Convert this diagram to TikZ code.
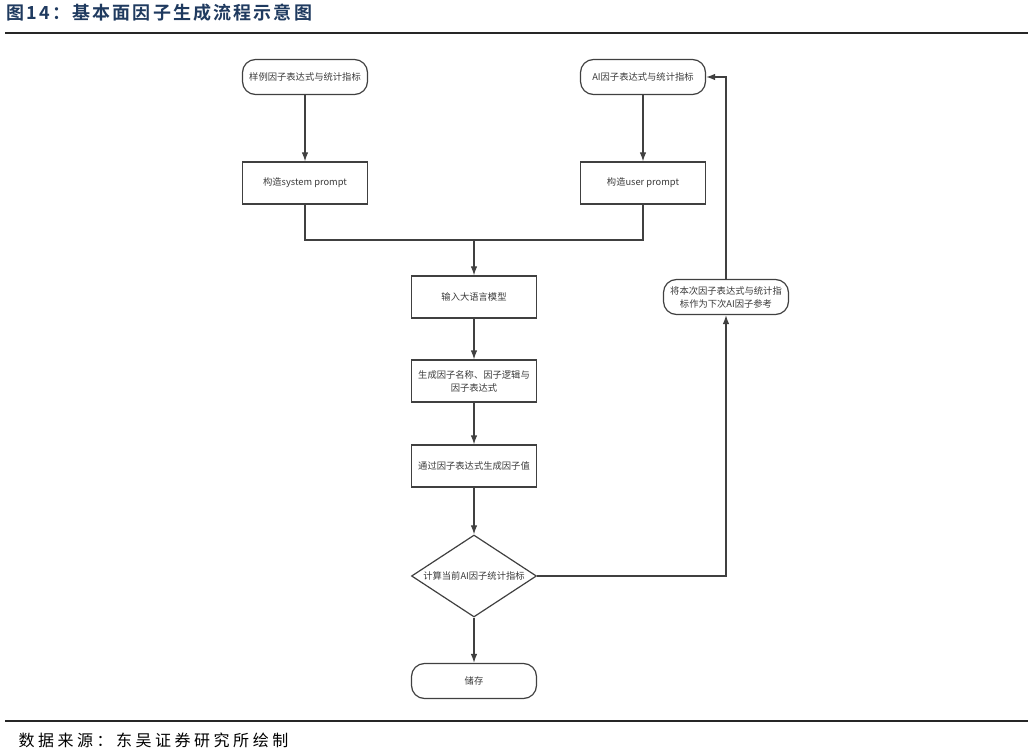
\documentclass[tikz,border=0pt]{standalone}
\usepackage{fontspec}
\usepackage{xcolor}
\usepackage{tikz}
\usetikzlibrary{calc, shapes.geometric, arrows.meta, positioning}
\newfontfamily\cjk{Noto Sans CJK SC}
\newfontfamily\cjktitle[LetterSpace=12]{Noto Sans CJK SC Bold}
\newfontfamily\cjksource[LetterSpace=22]{Noto Sans CJK SC}
\definecolor{flowline}{HTML}{404040}
\definecolor{flowtext}{HTML}{3A3A3A}
\definecolor{titleblue}{HTML}{1F3A5F}

\begin{document}
\begin{tikzpicture}[x=1pt, y=-1pt,
			terminal/.style={draw=flowline, line width=1.2pt, rectangle, rounded corners=13pt, minimum width=125pt, minimum height=35pt, text=flowtext, font=\cjk\fontsize{9.3}{13}\selectfont, align=center},
			process/.style={draw=flowline, line width=1.2pt, rectangle, minimum width=125pt, minimum height=42pt, text=flowtext, font=\cjk\fontsize{9.3}{13}\selectfont, align=center},
			decision/.style={draw=flowline, line width=1.2pt, diamond, aspect=1.52, minimum width=125pt, minimum height=82pt, inner sep=0pt, text=flowtext, font=\cjk\fontsize{9.3}{13}\selectfont},
			link/.style={draw=flowline, line width=1.2pt},
			arrow/.style={link, -{Latex[length=9pt, width=6.5pt]}}
			]
			\useasboundingbox (0,0) rectangle (1031,754);
			% title and rules
			\node [anchor=west, text=titleblue, font=\cjktitle\fontsize{18}{20}\selectfont](title) at (3,13) {图14：基本面因子生成流程示意图};
			\draw [line width=2.4pt, black!85] (5,33) -- (1028,33);
			\draw [line width=2pt, black!85] (5,721) -- (1028,721);
			\node [anchor=west, font=\cjksource\fontsize{16}{18}\selectfont](source) at (15,740) {数据来源：东吴证券研究所绘制};
			% flow nodes
			\node [terminal](sample) at (305,77) {样例因子表达式与统计指标};
			\node [terminal](aistart) at (643,77) {AI因子表达式与统计指标};
			\node [process, node distance=106pt](sysp) [below of=sample] {构造system prompt};
			\node [process, node distance=106pt](userp) [below of=aistart] {构造user prompt};
			\coordinate (join) at (474,240);
			\node [process](llm) at (474,297) {输入大语言模型};
			\node [process, node distance=84pt](gen) [below of=llm] {生成因子名称、因子逻辑与\\因子表达式};
			\node [process, node distance=85pt](calc) [below of=gen] {通过因子表达式生成因子值};
			\node [decision, node distance=110pt](judge) [below of=calc] {计算当前AI因子统计指标};
			\node [terminal, node distance=105pt](store) [below of=judge] {储存};
			\node [terminal](feedback) at (726,297) {将本次因子表达式与统计指\\标作为下次AI因子参考};
			% connectors
			\draw [arrow] (sample) -- (sysp);
			\draw [arrow] (aistart) -- (userp);
			\draw [link] (sysp.south) |- (join);
			\draw [link] (userp.south) |- (join);
			\draw [arrow] (join) -- (llm);
			\draw [arrow] (llm) -- (gen);
			\draw [arrow] (gen) -- (calc);
			\draw [arrow] (calc) -- (judge);
			\draw [arrow] (judge) -- (store);
			\draw [arrow] (judge.east) -| (feedback.south);
			\draw [arrow] (feedback.north) |- (aistart.east);
		\end{tikzpicture}
\end{document}
